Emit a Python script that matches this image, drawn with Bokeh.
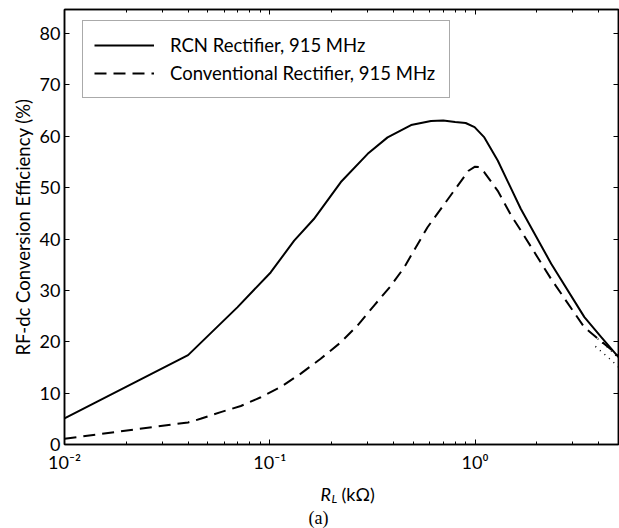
from bokeh.plotting import figure
from bokeh.layouts import column
from bokeh.models import (LogAxis, LinearAxis, FixedTicker, Legend, LegendItem,
                          Range1d, CustomJSTickFormatter)
from bokeh.core.properties import value
from bokeh.embed import file_html
from bokeh.resources import INLINE

# ---- data ----
rcn_x = [0.01, 0.04, 0.0695, 0.101, 0.1315, 0.164, 0.222, 0.300, 0.375, 0.488, 0.61,
         0.70, 0.80, 0.90, 0.995, 1.11, 1.29, 1.67, 2.35, 3.41, 4.12, 5.0]
rcn_y = [5.1, 17.4, 26.7, 33.5, 39.7, 43.9, 51.1, 56.6, 59.8, 62.2, 63.0,
         63.1, 62.8, 62.6, 61.8, 59.8, 55.3, 45.9, 35.2, 24.8, 20.9, 17.0]

conv_x = [0.01, 0.04, 0.046, 0.0577, 0.0723, 0.0904, 0.113, 0.1416, 0.177, 0.222,
          0.268, 0.323, 0.389, 0.452, 0.587, 0.79, 0.93, 1.0, 1.05, 1.11, 1.29,
          1.5, 1.67, 2.35, 3.41, 4.9, 5.0]
conv_y = [1.1, 4.3, 5.0, 6.3, 7.5, 9.2, 11.2, 13.8, 16.7, 19.9,
          23.2, 27.1, 30.9, 34.5, 42.3, 49.4, 53.3, 54.1, 54.0, 53.0, 49.4,
          44.6, 41.7, 32.2, 22.8, 17.6, 17.3]

dot1_x = [3.86, 4.12, 4.44, 4.82, 5.0]
dot1_y = [19.1, 18.1, 17.0, 15.7, 15.1]
dot2_x = [3.96, 4.19, 4.44, 5.0]
dot2_y = [20.6, 19.7, 18.9, 16.8]

series_labels = ["RCN Rectifier, 915 MHz", "Conventional Rectifier, 915 MHz"]

x_major = [0.01, 0.1, 1.0]
x_major_labels = ["10\u207b\u00b2", "10\u207b\u00b9", "10\u2070"]
x_minor = [0.02, 0.03, 0.04, 0.05, 0.06, 0.07, 0.08, 0.09,
           0.2, 0.3, 0.4, 0.5, 0.6, 0.7, 0.8, 0.9,
           2.0, 3.0, 4.0, 5.0]
y_ticks = [0, 10, 20, 30, 40, 50, 60, 70, 80]

# caption texts below the plot
cap_text = ["R", "L", "(k\u03a9)", "(a)"]

FONT = "Lato"
Y_TOP = 84.7
W = 619
B_LEFT, B_RIGHT = 64, 1
P_H = 482
CAP_H = 46

p = figure(width=W, height=P_H, x_axis_type="log",
           x_range=Range1d(0.01, 5.0), y_range=Range1d(0, Y_TOP),
           output_backend="svg", toolbar_location=None,
           min_border_left=B_LEFT, min_border_right=B_RIGHT, min_border_top=9,
           min_border_bottom=38, x_axis_location=None, y_axis_location=None)
p.grid.visible = False
p.outline_line_color = "black"
p.outline_line_width = 1.5
p.background_fill_color = "white"
p.border_fill_color = "white"

xticker = FixedTicker(ticks=x_major, minor_ticks=x_minor)
yticker = FixedTicker(ticks=y_ticks)

def style(ax):
    ax.axis_line_color = "black"
    ax.axis_line_width = 1.5
    ax.major_tick_in = 5
    ax.major_tick_out = 0
    ax.minor_tick_in = 3
    ax.minor_tick_out = 0
    ax.major_tick_line_color = "black"
    ax.minor_tick_line_color = "black"
    ax.major_label_text_font = FONT
    ax.major_label_text_font_size = "18px"
    ax.major_label_text_color = "black"

def silent(ax):
    ax.formatter = CustomJSTickFormatter(code="return '';")
    ax.major_label_text_font_size = "0px"
    ax.major_label_standoff = 0

xb = LogAxis(ticker=xticker, major_label_overrides=dict(zip(x_major, x_major_labels)))
style(xb)
xb.major_label_standoff = 6
p.add_layout(xb, "below")

xt = LogAxis(ticker=xticker)
style(xt); silent(xt)
p.add_layout(xt, "above")

yl = LinearAxis(ticker=yticker, axis_label="RF-dc Conversion Efficiency (%)")
style(yl)
yl.minor_tick_line_color = None
yl.major_label_standoff = 4
yl.axis_label_text_font = FONT
yl.axis_label_text_font_style = "normal"
yl.axis_label_text_font_size = "18.5px"
yl.axis_label_text_color = "black"
yl.axis_label_standoff = 3
p.add_layout(yl, "left")

yr = LinearAxis(ticker=yticker)
style(yr); silent(yr)
yr.minor_tick_line_color = None
p.add_layout(yr, "right")

r1 = p.line(rcn_x, rcn_y, line_color="black", line_width=2)
r2 = p.line(conv_x, conv_y, line_color="black", line_width=2, line_dash="12 7")
p.line(dot1_x, dot1_y, line_color="black", line_width=1.5, line_dash="1 5")
p.line(dot2_x, dot2_y, line_color="black", line_width=1.5, line_dash="1 5")

legend = Legend(items=[LegendItem(label=series_labels[0], renderers=[r1]),
                       LegendItem(label=series_labels[1], renderers=[r2])],
                location=(18, 346), orientation="vertical")
legend.glyph_width = 60
legend.glyph_height = 26
legend.label_height = 26
legend.spacing = 2
legend.padding = 11
legend.margin = 0
legend.label_standoff = 16
legend.label_width = 268
legend.label_text_font = FONT
legend.label_text_font_size = "18.5px"
legend.label_text_color = "black"
legend.border_line_color = "#555555"
legend.border_line_width = 1
legend.background_fill_color = "white"
legend.background_fill_alpha = 1
p.add_layout(legend, "center")

# ---- strip under the plot: axis title and caption ----
# frame spans the same columns as the plot frame; x in page pixels, y from the top
cap = figure(width=W, height=CAP_H, x_range=Range1d(B_LEFT, W - B_RIGHT),
             y_range=Range1d(CAP_H, 0), output_backend="svg", toolbar_location=None,
             min_border_left=B_LEFT, min_border_right=B_RIGHT, min_border_top=0,
             min_border_bottom=0, x_axis_location=None, y_axis_location=None)
cap.grid.visible = False
cap.outline_line_color = None
cap.border_fill_color = "white"
cap.background_fill_color = "white"

cap.text(x=[320], y=[11], text=[cap_text[0]], text_font=value(FONT),
         text_font_style="italic", text_font_size="18px",
         text_baseline="middle", text_align="left", text_color="black")
cap.text(x=[331], y=[16], text=[cap_text[1]], text_font=value(FONT),
         text_font_style="italic", text_font_size="12px",
         text_baseline="middle", text_align="left", text_color="black")
cap.text(x=[341], y=[11], text=[cap_text[2]], text_font=value(FONT),
         text_font_size="18px", text_baseline="middle", text_align="left",
         text_color="black")
cap.text(x=[318], y=[35], text=[cap_text[3]], text_font=value("Liberation Serif"),
         text_font_size="18px", text_baseline="middle", text_align="center",
         text_color="black")

layout = column(p, cap, spacing=0)
open("out.html", "w").write(file_html(layout, INLINE))
